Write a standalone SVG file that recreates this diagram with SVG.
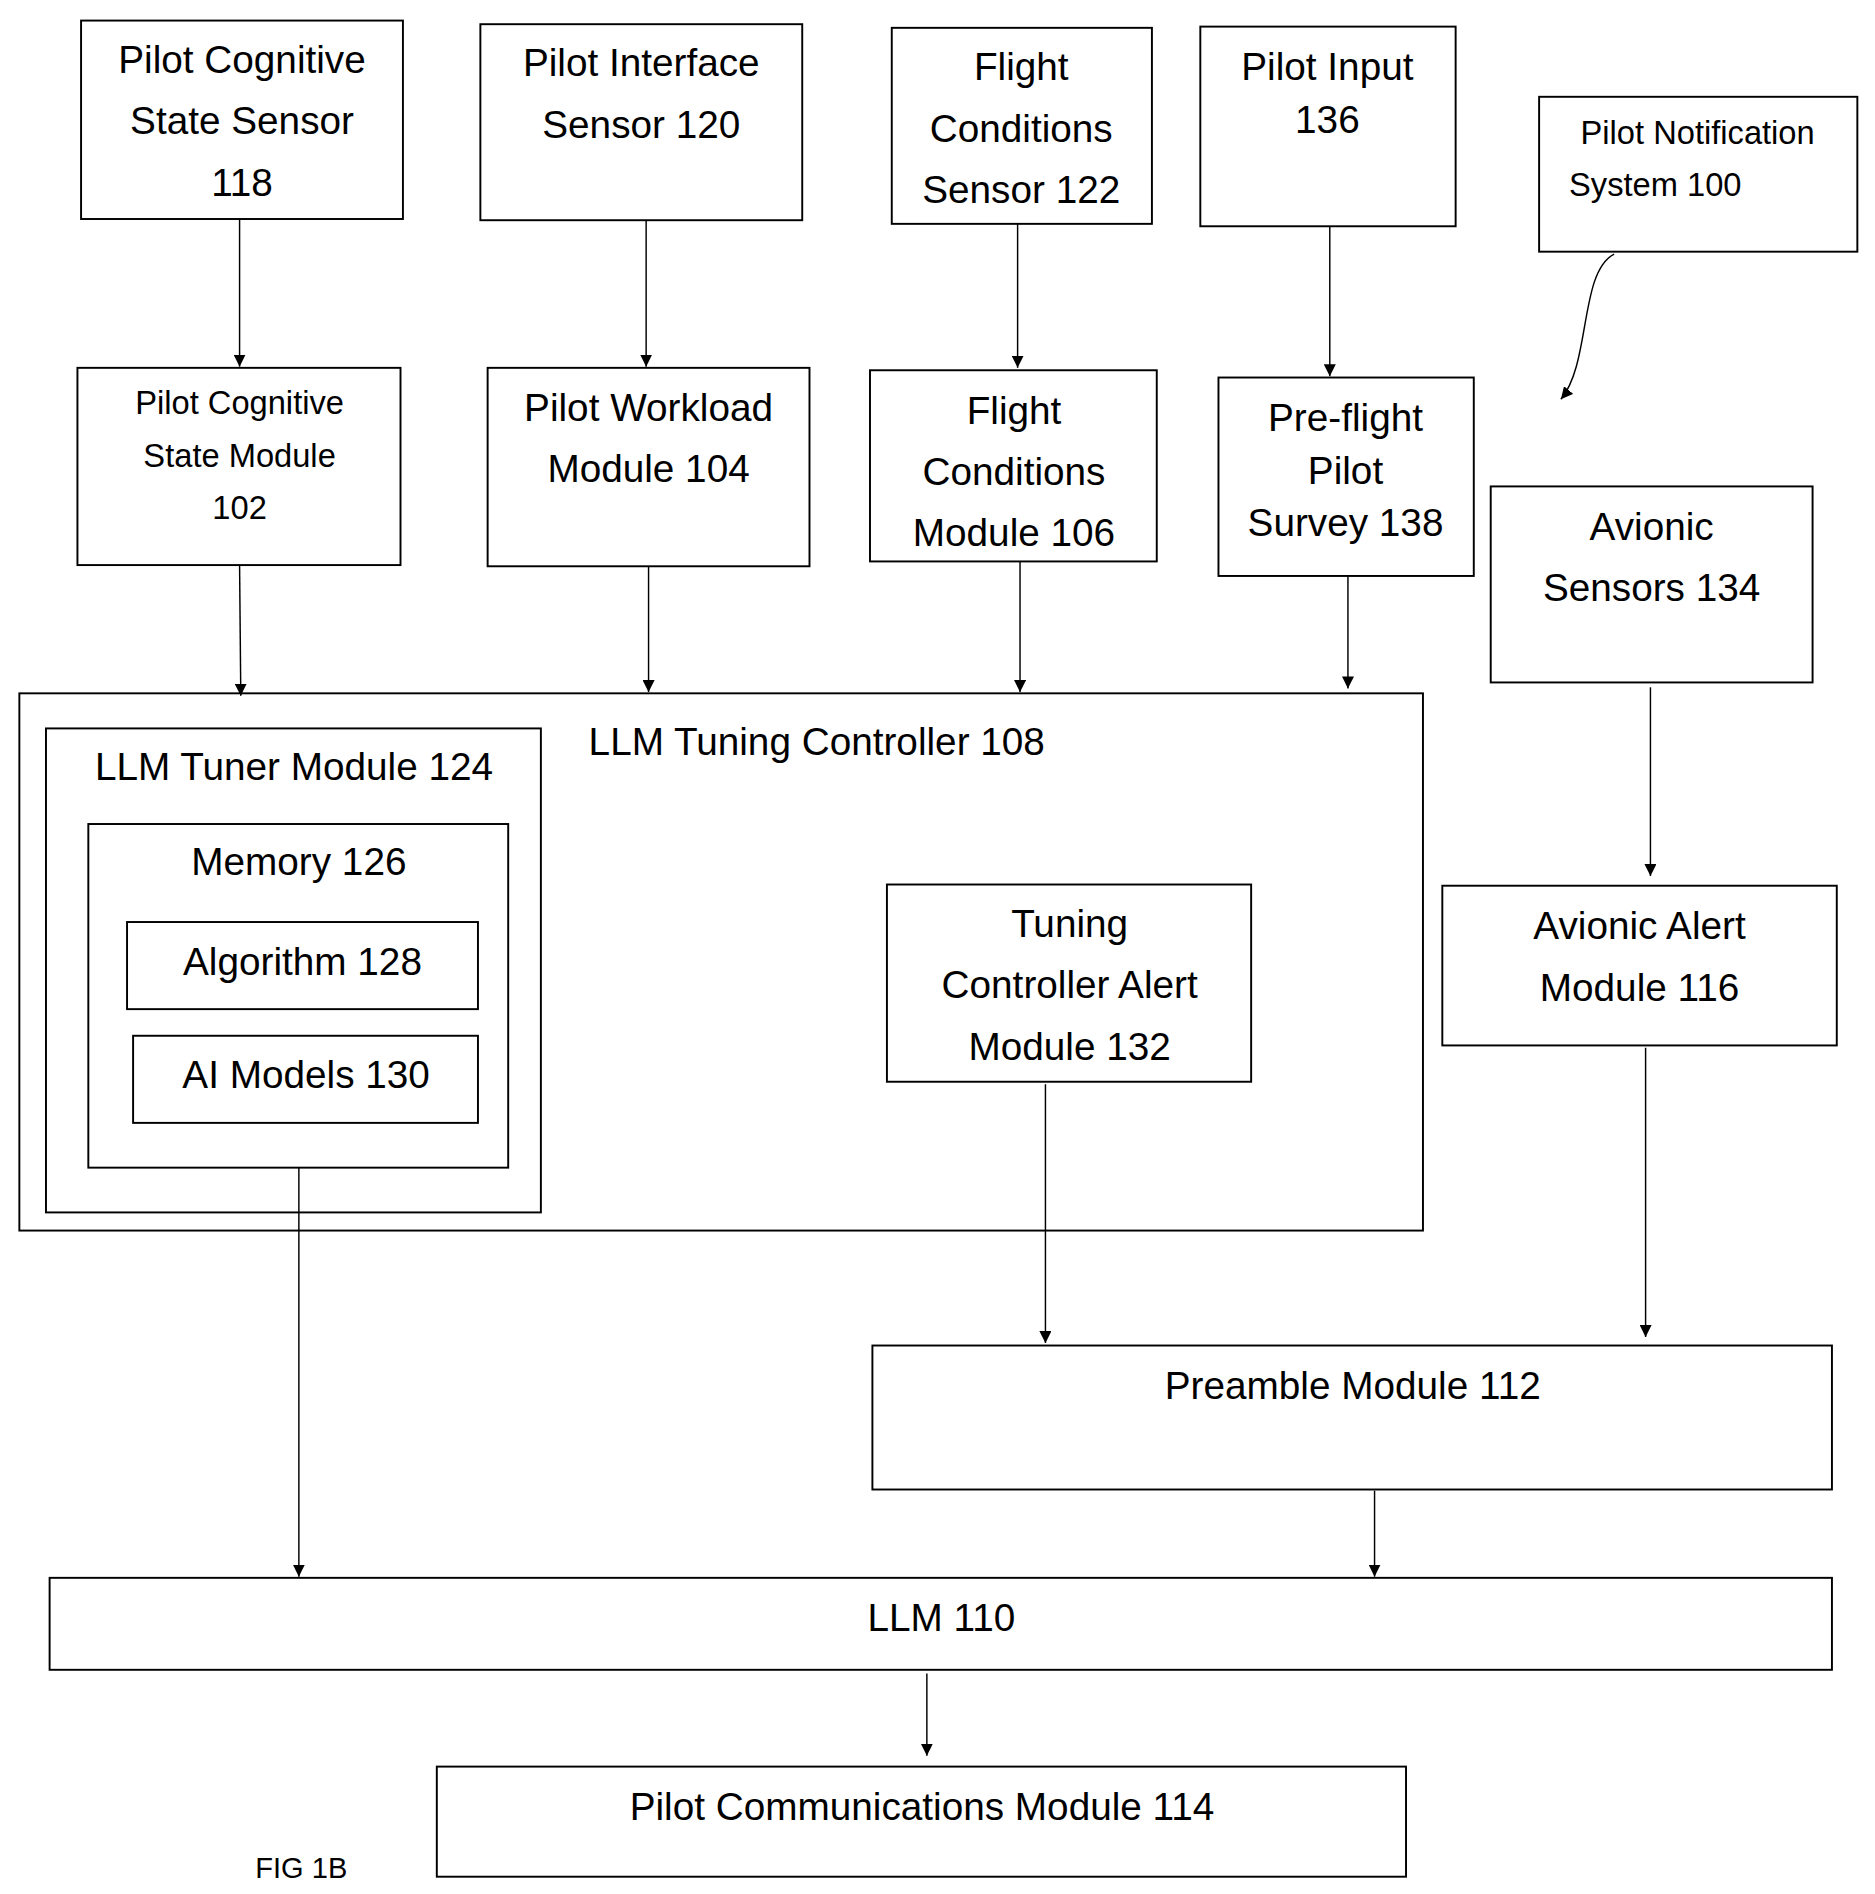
<svg xmlns="http://www.w3.org/2000/svg" width="1875" height="1894" viewBox="0 0 1875 1894">
<defs>
<marker id="ah" viewBox="0 0 10 10" refX="10" refY="5" markerWidth="10" markerHeight="10" markerUnits="userSpaceOnUse" orient="auto"><path d="M0,0 L10,5 L0,10 z" fill="#000"/></marker>
<style>
rect{fill:#fff;stroke:#000;stroke-width:1.6}
text{font-family:"Liberation Sans",Arial,sans-serif;font-size:32px;fill:#000;text-anchor:middle}
.s{font-size:27px}
.c line,.c path{stroke:#000;stroke-width:1.2;fill:none;marker-end:url(#ah)}
</style>
</defs>
<rect x="0" y="0" width="1875" height="1894" style="fill:#fff;stroke:none"/>
<g transform="scale(1.21)">
<g id="n118"><rect x="67" y="17" width="266" height="164"/><text x="200" y="60">Pilot Cognitive</text><text x="200" y="111">State Sensor</text><text x="200" y="162">118</text></g>
<g id="n120"><rect x="397" y="20" width="266" height="162"/><text x="530" y="63">Pilot Interface</text><text x="530" y="114">Sensor 120</text></g>
<g id="n122"><rect x="737" y="23" width="215" height="162"/><text x="844" y="66">Flight</text><text x="844" y="117">Conditions</text><text x="844" y="168">Sensor 122</text></g>
<g id="n136"><rect x="992" y="22" width="211" height="165"/><text x="1097" y="66">Pilot Input</text><text x="1097" y="110">136</text></g>
<g id="n100"><rect x="1272" y="80" width="263" height="128"/><text class="s" x="1403" y="119">Pilot Notification</text><text class="s" x="1368" y="162">System 100</text></g>
<g id="n102"><rect x="64" y="304" width="267" height="163"/><text class="s" x="198" y="342">Pilot Cognitive</text><text class="s" x="198" y="386">State Module</text><text class="s" x="198" y="429">102</text></g>
<g id="n104"><rect x="403" y="304" width="266" height="164"/><text x="536" y="348">Pilot Workload</text><text x="536" y="398">Module 104</text></g>
<g id="n106"><rect x="719" y="306" width="237" height="158"/><text x="838" y="350">Flight</text><text x="838" y="401">Conditions</text><text x="838" y="451">Module 106</text></g>
<g id="n138"><rect x="1007" y="312" width="211" height="164"/><text x="1112" y="356">Pre-flight</text><text x="1112" y="400">Pilot</text><text x="1112" y="443">Survey 138</text></g>
<g id="n134"><rect x="1232" y="402" width="266" height="162"/><text x="1365" y="446">Avionic</text><text x="1365" y="497">Sensors 134</text></g>
<g id="n108"><rect x="16" y="573" width="1160" height="444"/><text x="675" y="624">LLM Tuning Controller 108</text></g>
<g id="n124"><rect x="38" y="602" width="409" height="400"/><text x="243" y="645">LLM Tuner Module 124</text></g>
<g id="n126"><rect x="73" y="681" width="347" height="284"/><text x="247" y="723">Memory 126</text></g>
<g id="n128"><rect x="105" y="762" width="290" height="72"/><text x="250" y="806">Algorithm 128</text></g>
<g id="n130"><rect x="110" y="856" width="285" height="72"/><text x="253" y="899">AI Models 130</text></g>
<g id="n132"><rect x="733" y="731" width="301" height="163"/><text x="884" y="774">Tuning</text><text x="884" y="825">Controller Alert</text><text x="884" y="876">Module 132</text></g>
<g id="n116"><rect x="1192" y="732" width="326" height="132"/><text x="1355" y="776">Avionic Alert</text><text x="1355" y="827">Module 116</text></g>
<g id="n112"><rect x="721" y="1112" width="793" height="119"/><text x="1118" y="1156">Preamble Module 112</text></g>
<g id="n110"><rect x="41" y="1304" width="1473" height="76"/><text x="778" y="1348">LLM 110</text></g>
<g id="n114"><rect x="361" y="1460" width="801" height="91"/><text x="762" y="1504">Pilot Communications Module 114</text></g>
<text class="s" x="249" y="1552" style="font-size:24px">FIG 1B</text>
<g class="c" id="connectors">
<line x1="198" y1="181" x2="198" y2="303"/>
<line x1="534" y1="182" x2="534" y2="303"/>
<line x1="841" y1="185" x2="841" y2="304"/>
<line x1="1099" y1="187" x2="1099" y2="311"/>
<path d="M1334,210 C1305,225 1315,300 1290,330"/>
<line x1="198" y1="467" x2="199" y2="575"/>
<line x1="536" y1="468" x2="536" y2="572"/>
<line x1="843" y1="464" x2="843" y2="572"/>
<line x1="1114" y1="476" x2="1114" y2="569"/>
<line x1="1364" y1="568" x2="1364" y2="724"/>
<line x1="247" y1="965" x2="247" y2="1303"/>
<line x1="864" y1="896" x2="864" y2="1110"/>
<line x1="1360" y1="866" x2="1360" y2="1105"/>
<line x1="1136" y1="1232" x2="1136" y2="1303"/>
<line x1="766" y1="1383" x2="766" y2="1451"/>
</g>
</g>
</svg>
